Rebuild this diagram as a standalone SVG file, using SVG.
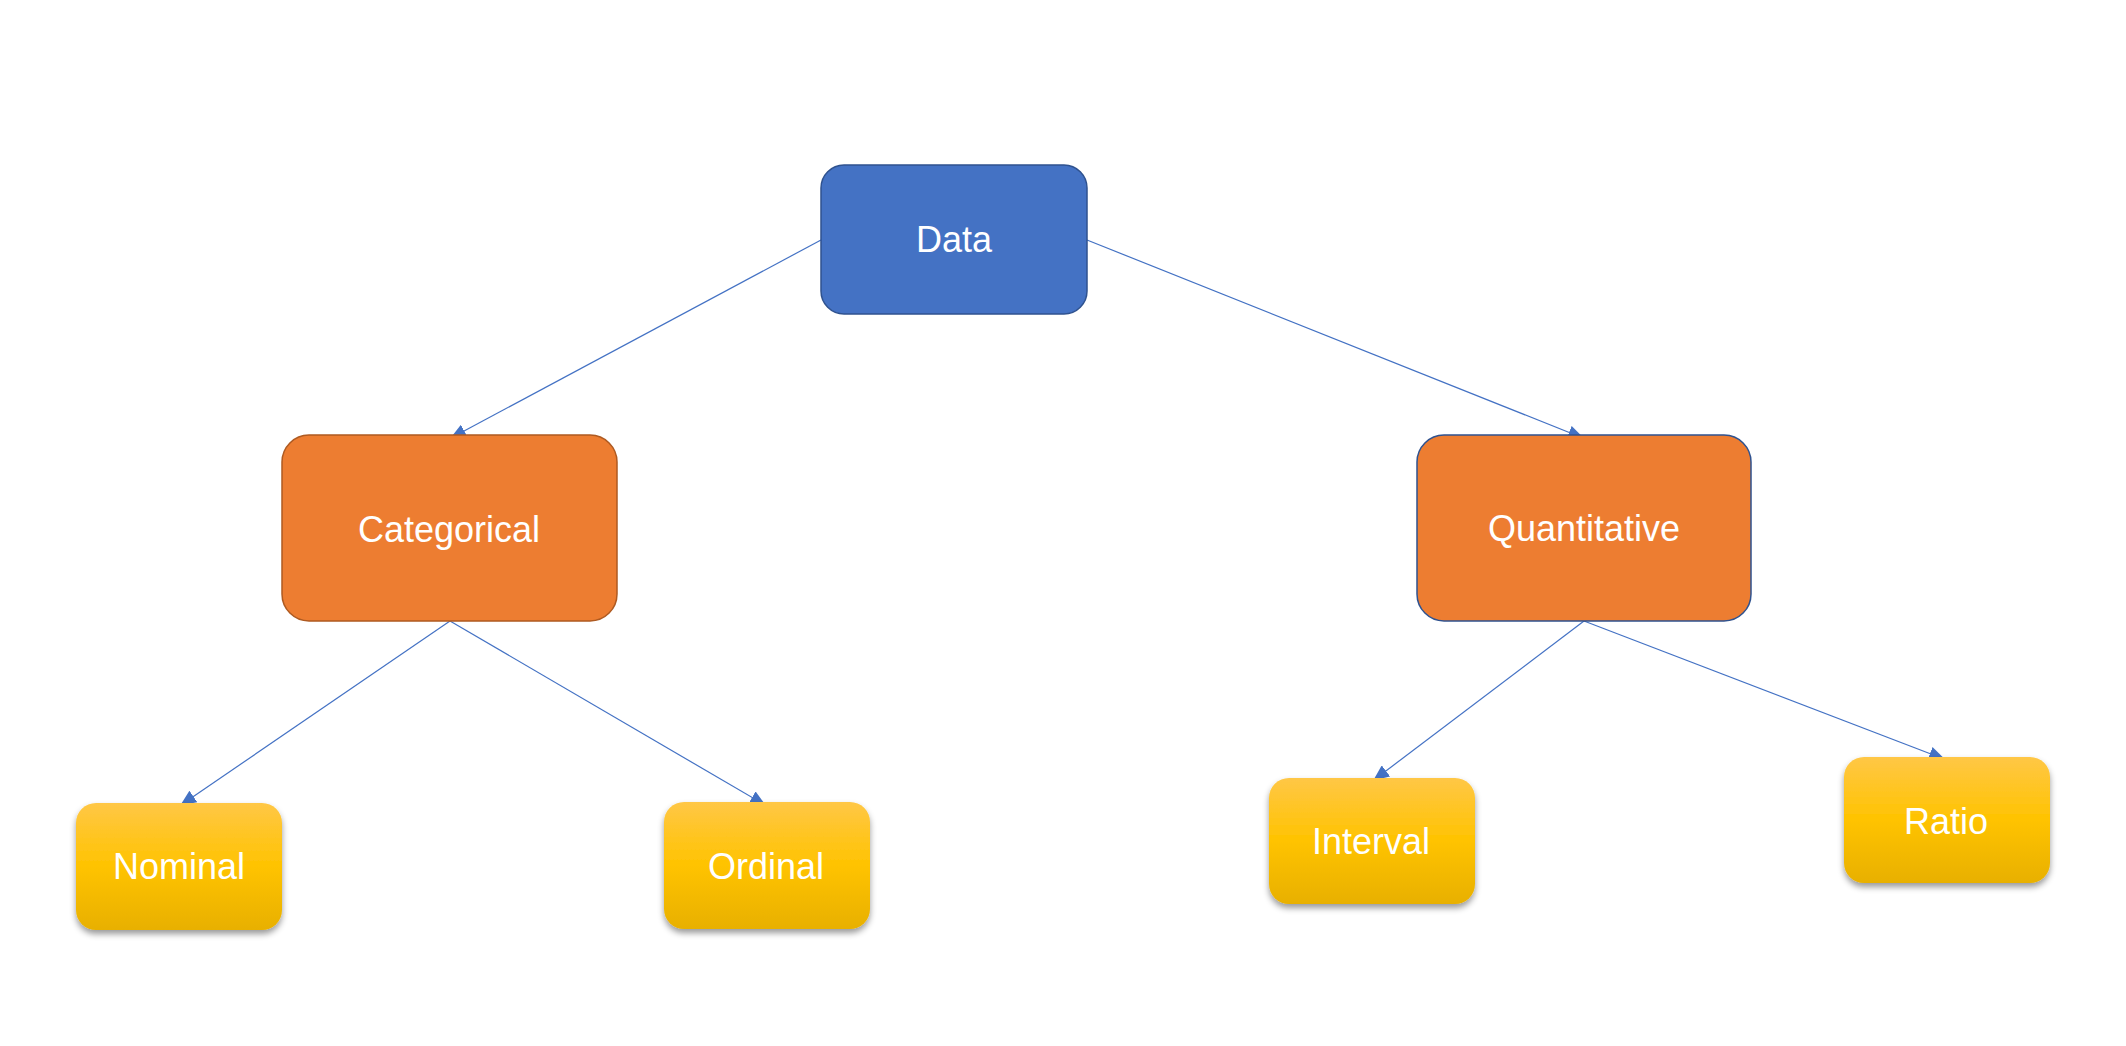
<svg xmlns="http://www.w3.org/2000/svg" width="2126" height="1046" viewBox="0 0 2126 1046">
<style>
.lbl{font-family:"Liberation Sans",Arial,sans-serif;font-size:36px;fill:#ffffff;text-anchor:middle}
.conn{stroke:#4472C4;stroke-width:1.2;fill:none;marker-end:url(#arr)}
.gold{fill:url(#goldGrad);filter:url(#shadow)}
</style>
<defs>
<marker id="arr" viewBox="0 0 16 14" refX="15" refY="7" markerWidth="16" markerHeight="14" markerUnits="userSpaceOnUse" orient="auto">
<path d="M0,0 L16,7 L0,14 z" fill="#4472C4"/>
</marker>
<linearGradient id="goldGrad" x1="0" y1="0" x2="0" y2="1">
<stop offset="0" stop-color="#FFC746"/>
<stop offset="0.5" stop-color="#FFC300"/>
<stop offset="1" stop-color="#E8B000"/>
</linearGradient>
<filter id="shadow" x="-10%" y="-10%" width="120%" height="130%">
<feDropShadow dx="0" dy="4" stdDeviation="3" flood-color="#000000" flood-opacity="0.4"/>
</filter>
</defs>
<rect width="2126" height="1046" fill="#ffffff"/>
<g id="connectors">
<line class="conn" x1="821" y1="240" x2="451" y2="438"/>
<line class="conn" x1="1087" y1="240" x2="1583" y2="438"/>
<line class="conn" x1="450" y1="621" x2="181" y2="805"/>
<line class="conn" x1="450" y1="621" x2="765" y2="805"/>
<line class="conn" x1="1584" y1="621" x2="1374" y2="780"/>
<line class="conn" x1="1584" y1="621" x2="1944" y2="759"/>
</g>
<g id="node-data">
<rect x="821" y="165" width="266" height="149" rx="23" fill="#4472C4" stroke="#2F528F" stroke-width="1.5"/>
<text class="lbl" x="954" y="252">Data</text>
</g>
<g id="node-categorical">
<rect x="282" y="435" width="335" height="186" rx="27" fill="#ED7D31" stroke="#AE5A21" stroke-width="1.5"/>
<text class="lbl" x="449" y="542">Categorical</text>
</g>
<g id="node-quantitative">
<rect x="1417" y="435" width="334" height="186" rx="27" fill="#ED7D31" stroke="#2F528F" stroke-width="1.5"/>
<text class="lbl" x="1584" y="541">Quantitative</text>
</g>
<g id="node-nominal">
<rect class="gold" x="76" y="803" width="206" height="127" rx="20"/>
<text class="lbl" x="179" y="879">Nominal</text>
</g>
<g id="node-ordinal">
<rect class="gold" x="664" y="802" width="206" height="127" rx="20"/>
<text class="lbl" x="766" y="879">Ordinal</text>
</g>
<g id="node-interval">
<rect class="gold" x="1269" y="778" width="206" height="126" rx="20"/>
<text class="lbl" x="1371" y="854">Interval</text>
</g>
<g id="node-ratio">
<rect class="gold" x="1844" y="757" width="206" height="126" rx="20"/>
<text class="lbl" x="1946" y="834">Ratio</text>
</g>
</svg>
